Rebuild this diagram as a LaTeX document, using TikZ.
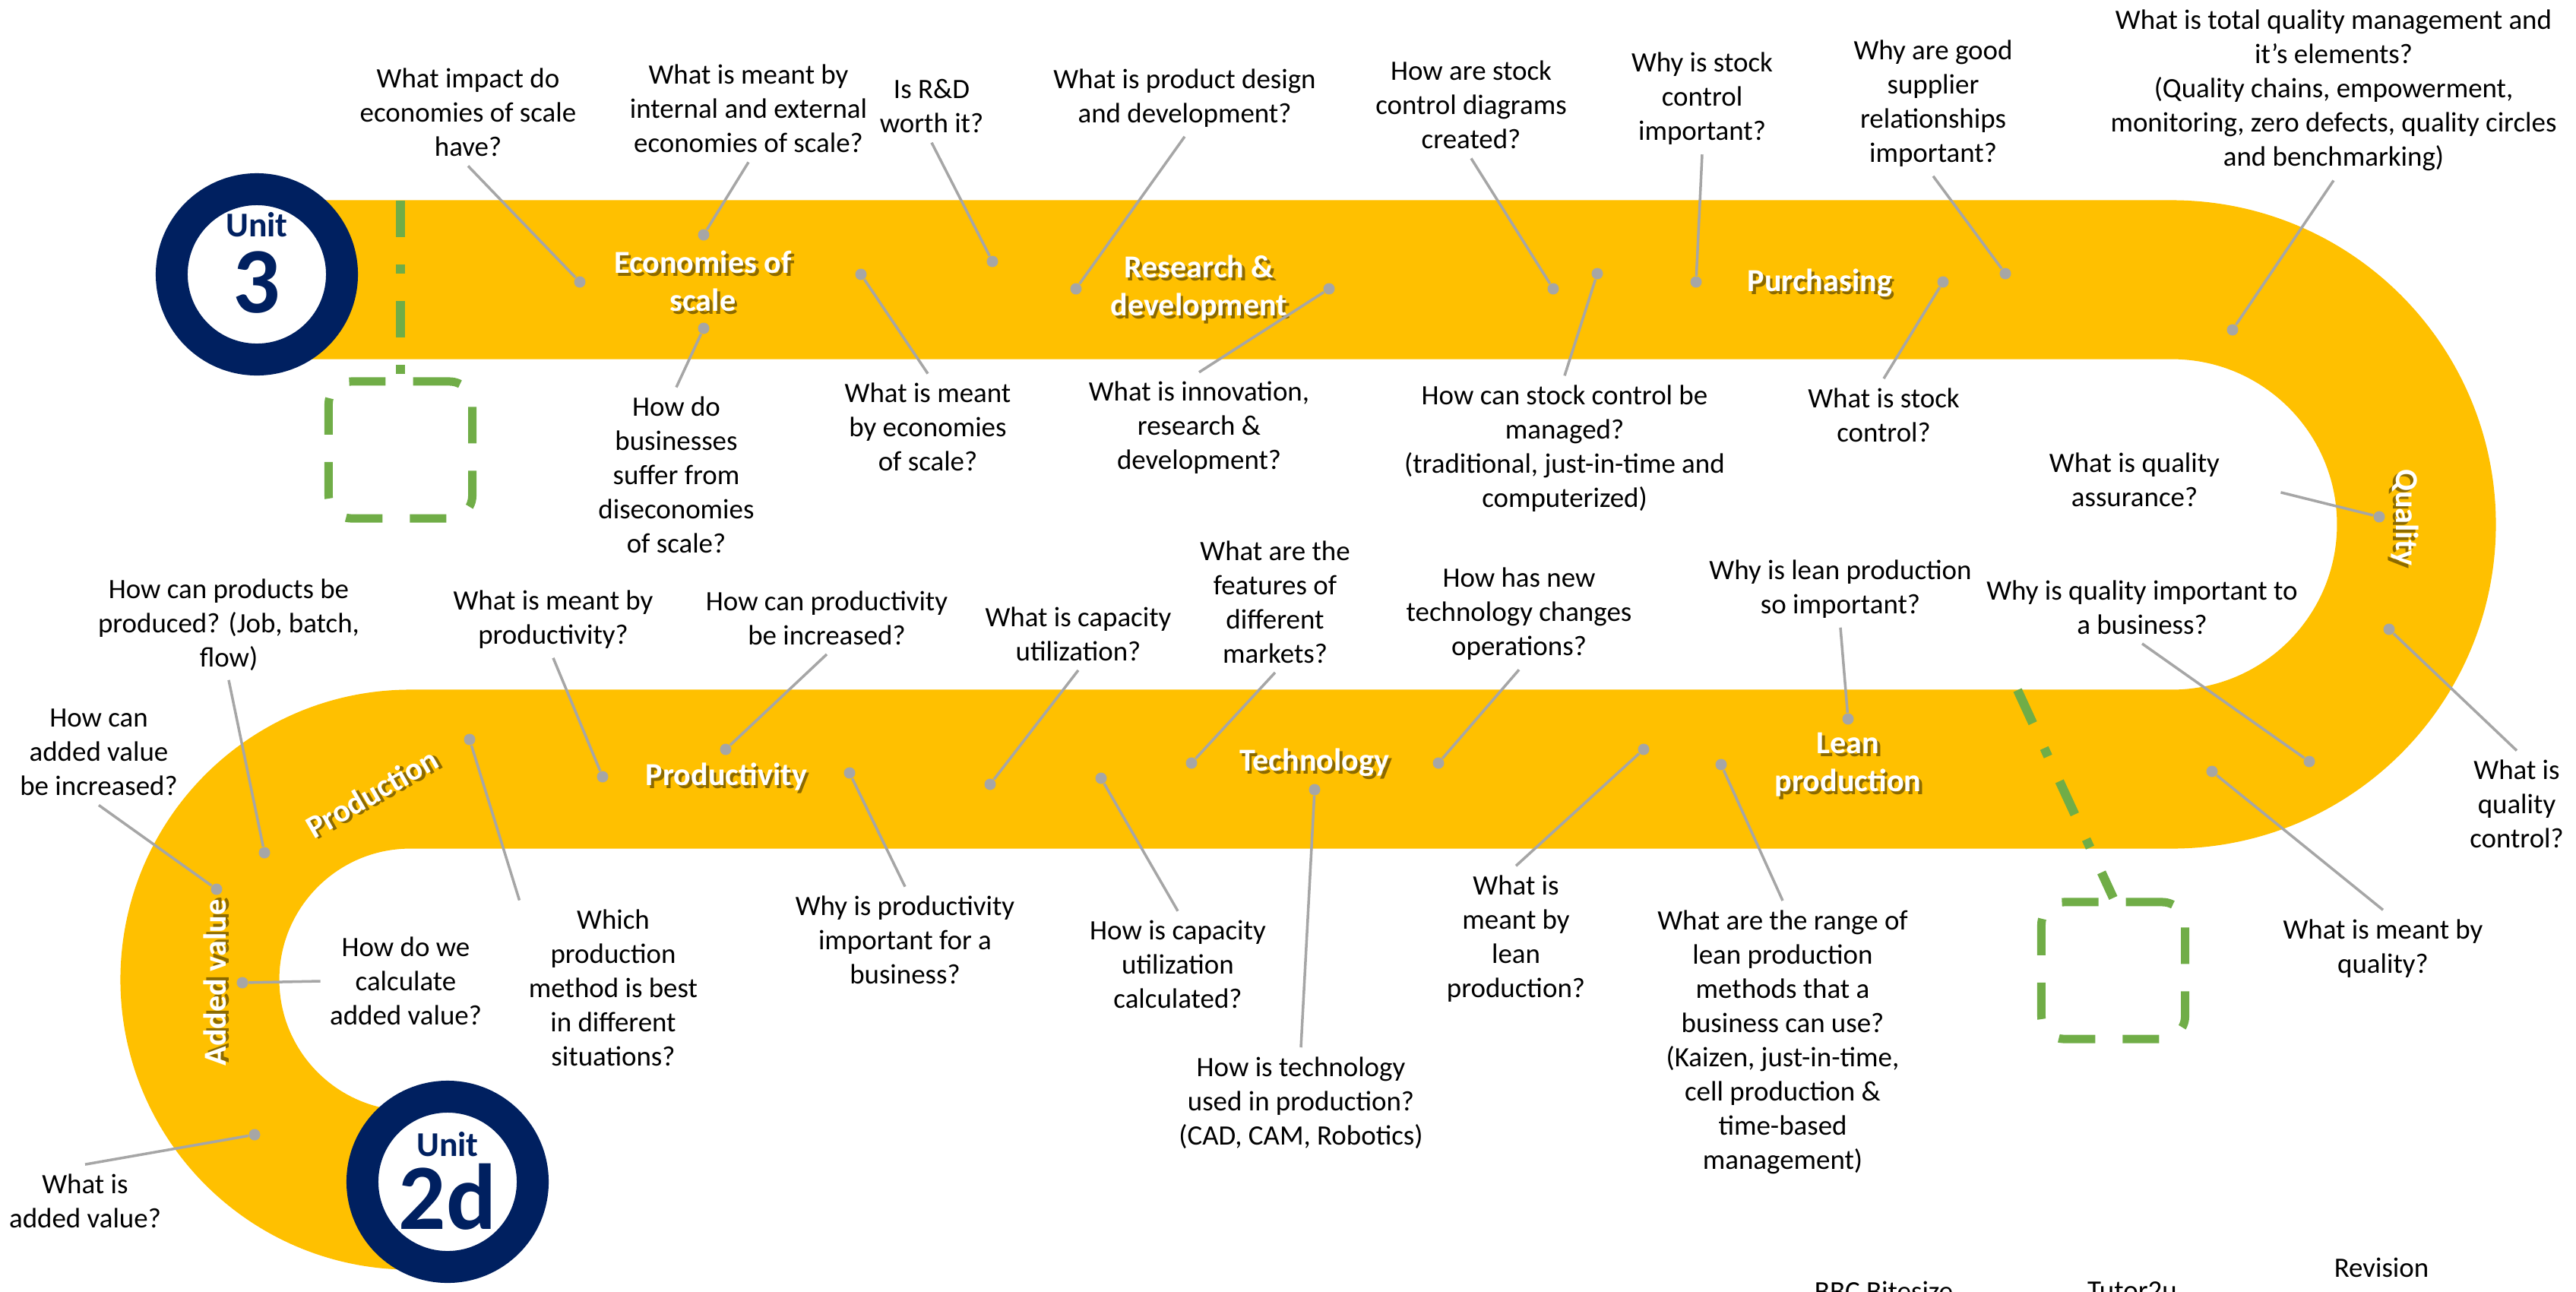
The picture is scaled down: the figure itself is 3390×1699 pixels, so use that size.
\documentclass[tikz,border=0pt]{standalone}
\usepackage{fontspec}
\setmainfont{Carlito}
\usepackage{xcolor}
\usepackage{tikz}
\definecolor{bandyellow}{HTML}{FFC000}
\definecolor{unitnavy}{HTML}{002060}
\definecolor{gapgreen}{HTML}{70AD47}
\definecolor{pingray}{HTML}{A6A6A6}
\newcommand{\shadowed}[1]{\leavevmode\rlap{\kern1pt\raisebox{-1pt}{\color{bandyellow!55!black}#1}}#1}
\tikzset{
  band/.style={draw=bandyellow, line width=2.09cm},
  seglbl/.style={text=white, font=\fontsize{12}{14.2}\selectfont\bfseries, align=center, inner sep=0pt},
  ques/.style={font=\fontsize{10.5}{12.8}\selectfont, align=center},
  pindot/.style={circle, fill=pingray, inner sep=0pt, minimum size=0.15cm},
  conn/.style={draw=pingray, line width=0.035cm},
  unitring/.style={circle, draw=unitnavy, line width=0.42cm, fill=white, minimum size=2.24cm, inner sep=0pt},
  unitword/.style={text=unitnavy, font=\fontsize{13}{15}\selectfont\bfseries, inner sep=0pt},
  unitnum/.style={text=unitnavy, font=\fontsize{35}{40}\selectfont\bfseries, inner sep=0pt},
  gapbox/.style={draw=gapgreen, line width=0.11cm, dash pattern=on 0.48cm off 0.36cm, rounded corners=0.3cm, minimum width=1.89cm, minimum height=1.8cm, inner sep=0pt},
  gapline/.style={draw=gapgreen, line width=0.12cm, dash pattern=on 0.48cm off 0.36cm on 0.12cm off 0.36cm},
}
\begin{document}
\begin{tikzpicture}[x=0.01cm, y=-0.01cm]
  \useasboundingbox (0,0) rectangle (3390,1699);
  \clip (0,0) rectangle (3390,1699);
  \draw[band] (338,368) -- (2858,368) arc[start angle=-90, end angle=90, radius=322] -- (540,1012) arc[start angle=-90, end angle=-270, radius=277] -- (600,1566);

  \node[gapbox] (gapa) at (527,592) {};
  \node[gapbox] (gapb) at (2781,1277) {};
  \coordinate (gapatop) at (527,264);
  \coordinate (gapbtop) at (2655,908);
  \draw[gapline] (gapatop) -- (gapa.north);
  \draw[gapline] (gapbtop) -- (gapb.north);

  \node[seglbl] (econ) at (925,372) {\shadowed{Economies of}\\\shadowed{scale}};
  \node[seglbl] (rnd) at (1578,381) {\shadowed{Research \&}\\\shadowed{development}};
  \node[seglbl] (purch) at (2395,374) {\shadowed{Purchasing}};
  \node[seglbl, rotate=-90] (quality) at (3163,681) {\shadowed{Quality}};
  \node[seglbl] (lean) at (2432,1008) {\shadowed{Lean}\\\shadowed{production}};
  \node[seglbl] (tech) at (1730,1005) {\shadowed{Technology}};
  \node[seglbl] (prodvty) at (956,1024) {\shadowed{Productivity}};
  \node[seglbl, rotate=30] (prodn) at (490,1045) {\shadowed{Production}};
  \node[seglbl, rotate=90] (addval) at (285,1293) {\shadowed{Added value}};

  \node[ques] (impact) at (616,148) {What impact do\\economies of scale\\have?};
  \node[ques] (intext) at (985,143) {What is meant by\\internal and external\\economies of scale?};
  \node[ques] (rdworth) at (1226,140) {Is R\&D\\worth it?};
  \node[ques] (design) at (1559,129) {What is product design\\and development?};
  \node[ques] (diagrams) at (1936,138) {How are stock\\control diagrams\\created?};
  \node[ques] (whystock) at (2240,130) {Why is stock\\control\\important?};
  \node[ques] (supplier) at (2544,136) {Why are good\\supplier\\relationships\\important?};
  \node[ques] (tqm) at (3071,119) {What is total quality management and\\it’s elements?\\(Quality chains, empowerment,\\monitoring, zero defects, quality circles\\and benchmarking)};
  \node[ques] (diseco) at (890,625) {How do\\businesses\\suffer from\\diseconomies\\of scale?};
  \node[ques] (meanteco) at (1221,562) {What is meant\\by economies\\of scale?};
  \node[ques] (innov) at (1578,563) {What is innovation,\\research \&\\development?};
  \node[ques] (managed) at (2059,590) {How can stock control be\\managed?\\(traditional, just-in-time and\\computerized)};
  \node[ques] (whatstock) at (2479,546) {What is stock\\control?};
  \node[ques] (assure) at (2809,631) {What is quality\\assurance?};
  \node[ques] (produced) at (301,822) {How can products be\\produced? (Job, batch,\\flow)};
  \node[ques] (addinc) at (130,990) {How can\\added value\\be increased?};
  \node[ques] (meantprod) at (728,815) {What is meant by\\productivity?};
  \node[ques] (incprod) at (1088,813) {How can productivity\\be increased?};
  \node[ques] (caputil) at (1419,834) {What is capacity\\utilization?};
  \node[ques] (markets) at (1678,792) {What are the\\features of\\different\\markets?};
  \node[ques] (newtech) at (1999,808) {How has new\\technology changes\\operations?};
  \node[ques] (whylean) at (2422,775) {Why is lean production\\so important?};
  \node[ques] (whyqual) at (2819,799) {Why is quality important to\\a business?};
  \node[ques] (method) at (807,1300) {Which\\production\\method is best\\in different\\situations?};
  \node[ques] (calcav) at (534,1291) {How do we\\calculate\\added value?};
  \node[ques] (whatav) at (112,1580) {What is\\added value?};
  \node[ques] (prodimp) at (1191,1237) {Why is productivity\\important for a\\business?};
  \node[ques] (capcalc) at (1550,1269) {How is capacity\\utilization\\calculated?};
  \node[ques] (techused) at (1712,1451) {How is technology\\used in production?\\(CAD, CAM, Robotics)};
  \node[ques] (meantlean) at (1995,1235) {What is\\meant by\\lean\\production?};
  \node[ques] (leanrange) at (2346,1371) {What are the range of\\lean production\\methods that a\\business can use?\\(Kaizen, just-in-time,\\cell production \&\\time-based\\management)};
  \node[ques] (meantqual) at (3136,1248) {What is meant by\\quality?};
  \node[ques] (qualctrl) at (3312,1058) {What is\\quality\\control?};
  \node[ques] (bbc) at (2479,1699) {BBC Bitesize};
  \node[ques] (tutor) at (2806,1699) {Tutor2u};
  \node[ques] (revision) at (3134,1668) {Revision};

  \node[pindot] (impactpt) at (763,371) {};
  \node[pindot] (intextpt) at (926,309) {};
  \node[pindot] (rdworthpt) at (1306,344) {};
  \node[pindot] (designpt) at (1416,380) {};
  \node[pindot] (diagramspt) at (2044,380) {};
  \node[pindot] (whystockpt) at (2232,371) {};
  \node[pindot] (supplierpt) at (2639,360) {};
  \node[pindot] (tqmpt) at (2938,434) {};
  \node[pindot] (disecopt) at (926,432) {};
  \node[pindot] (meantecopt) at (1133,361) {};
  \node[pindot] (innovpt) at (1749,380) {};
  \node[pindot] (managedpt) at (2102,360) {};
  \node[pindot] (whatstockpt) at (2557,371) {};
  \node[pindot] (assurept) at (3131,680) {};
  \node[pindot] (producedpt) at (348,1122) {};
  \node[pindot] (addincpt) at (285,1170) {};
  \node[pindot] (meantprodpt) at (793,1022) {};
  \node[pindot] (incprodpt) at (955,986) {};
  \node[pindot] (caputilpt) at (1303,1032) {};
  \node[pindot] (marketspt) at (1568,1004) {};
  \node[pindot] (newtechpt) at (1893,1004) {};
  \node[pindot] (whyleanpt) at (2432,946) {};
  \node[pindot] (whyqualpt) at (3039,1002) {};
  \node[pindot] (methodpt) at (618,973) {};
  \node[pindot] (calcavpt) at (319,1293) {};
  \node[pindot] (whatavpt) at (335,1493) {};
  \node[pindot] (prodimppt) at (1118,1017) {};
  \node[pindot] (capcalcpt) at (1449,1024) {};
  \node[pindot] (techusedpt) at (1730,1039) {};
  \node[pindot] (meantleanpt) at (2163,986) {};
  \node[pindot] (leanrangept) at (2265,1006) {};
  \node[pindot] (meantqualpt) at (2911,1015) {};
  \node[pindot] (qualctrlpt) at (3144,828) {};

  \draw[conn] (impact.south) -- (impactpt);
  \draw[conn] (intext.south) -- (intextpt);
  \draw[conn] (rdworth.south) -- (rdworthpt);
  \draw[conn] (design.south) -- (designpt);
  \draw[conn] (diagrams.south) -- (diagramspt);
  \draw[conn] (whystock.south) -- (whystockpt);
  \draw[conn] (supplier.south) -- (supplierpt);
  \draw[conn] (tqm.south) -- (tqmpt);
  \draw[conn] (diseco.north) -- (disecopt);
  \draw[conn] (meanteco.north) -- (meantecopt);
  \draw[conn] (innov.north) -- (innovpt);
  \draw[conn] (managed.north) -- (managedpt);
  \draw[conn] (whatstock.north) -- (whatstockpt);
  \draw[conn, shorten <=0.7cm] (assure.east) -- (assurept);
  \draw[conn] (produced.south) -- (producedpt);
  \draw[conn] (addinc.south) -- (addincpt);
  \draw[conn] (meantprod.south) -- (meantprodpt);
  \draw[conn] (incprod.south) -- (incprodpt);
  \draw[conn] (caputil.south) -- (caputilpt);
  \draw[conn] (markets.south) -- (marketspt);
  \draw[conn] (newtech.south) -- (newtechpt);
  \draw[conn] (whylean.south) -- (whyleanpt);
  \draw[conn] (whyqual.south) -- (whyqualpt);
  \draw[conn] (method.north west) -- (methodpt);
  \draw[conn] (calcav.west) -- (calcavpt);
  \draw[conn] (whatav.north) -- (whatavpt);
  \draw[conn] (prodimp.north) -- (prodimppt);
  \draw[conn] (capcalc.north) -- (capcalcpt);
  \draw[conn] (techused.north) -- (techusedpt);
  \draw[conn] (meantlean.north) -- (meantleanpt);
  \draw[conn] (leanrange.north) -- (leanrangept);
  \draw[conn] (meantqual.north) -- (meantqualpt);
  \draw[conn] (qualctrl.north) -- (qualctrlpt);

  \node[unitring] (unit3) at (338,361) {};
  \node[unitword] (unit3w) at (338,296) {Unit};
  \node[unitnum] (unit3n) at (338,372) {3};
  \node[unitring] (unit2d) at (589,1555) {};
  \node[unitword] (unit2dw) at (589,1506) {Unit};
  \node[unitnum] (unit2dn) at (589,1575) {2d};
\end{tikzpicture}
\end{document}
